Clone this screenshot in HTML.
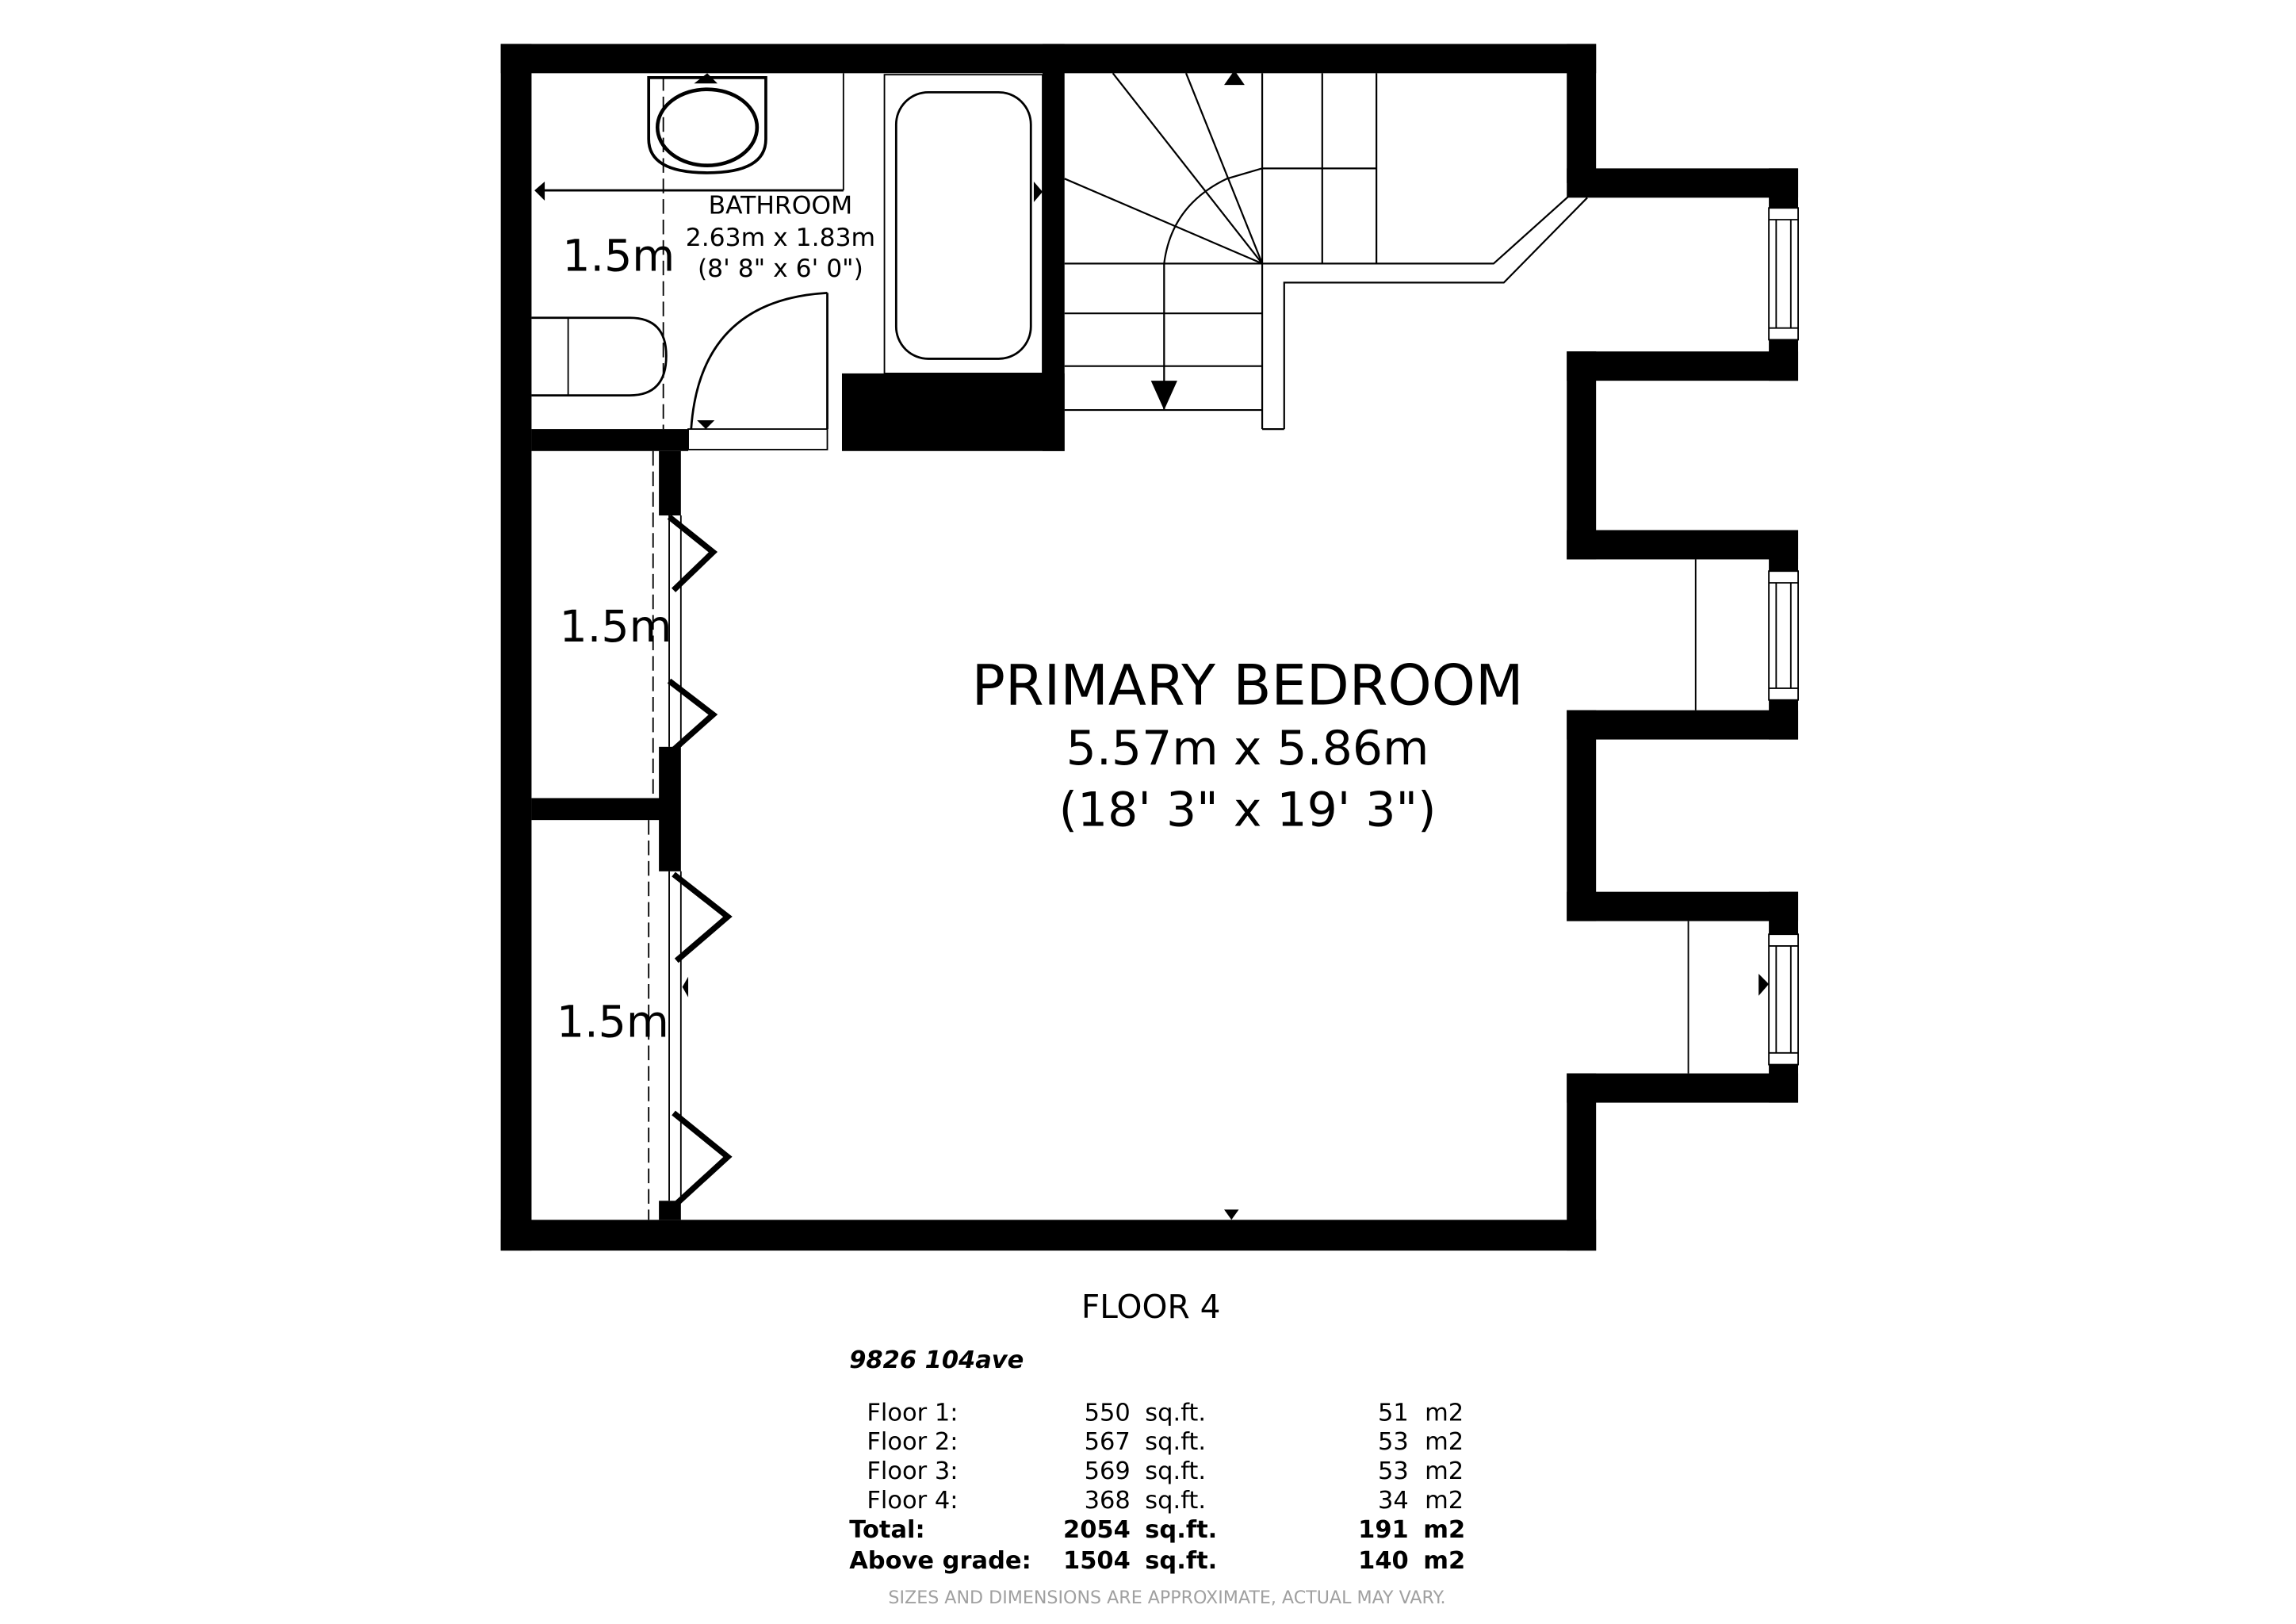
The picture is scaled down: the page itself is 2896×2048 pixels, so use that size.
<!DOCTYPE html>
<html><head><meta charset="utf-8"><style>
html,body{margin:0;padding:0;background:#fff;}
svg{display:block;}
text{font-family:"DejaVu Sans","Liberation Sans",sans-serif;fill:#000;}
</style></head><body>
<svg width="2896" height="2048" viewBox="0 0 1568 1109" preserveAspectRatio="none" xmlns="http://www.w3.org/2000/svg">
<rect width="1568" height="1109" fill="#fff"/>
<g fill="#000">
<rect x="342" y="30" width="748" height="20"/>
<rect x="342" y="30" width="21" height="824"/>
<rect x="342" y="833" width="748" height="21"/>
<rect x="1070" y="30" width="20" height="95"/>
<rect x="1070" y="115" width="158" height="20"/>
<rect x="1070" y="240" width="158" height="20"/>
<rect x="1208" y="115" width="20" height="145"/>
<rect x="1070" y="240" width="20" height="142"/>
<rect x="1070" y="362" width="158" height="20"/>
<rect x="1070" y="485" width="158" height="20"/>
<rect x="1208" y="362" width="20" height="143"/>
<rect x="1070" y="485" width="20" height="144"/>
<rect x="1070" y="609" width="158" height="20"/>
<rect x="1070" y="733" width="158" height="20"/>
<rect x="1208" y="609" width="20" height="144"/>
<rect x="1070" y="733" width="20" height="121"/>
<rect x="712" y="30" width="15" height="278"/>
<rect x="363" y="293" width="107" height="15"/>
<rect x="575" y="255" width="152" height="53"/>
<rect x="363" y="545" width="90" height="15"/>
<rect x="450" y="308" width="15" height="44"/>
<rect x="450" y="510" width="15" height="85"/>
<rect x="450" y="820" width="15" height="13"/>
</g>
<g fill="#fff" stroke="#000" stroke-width="1">
<rect x="1208" y="142" width="20" height="90"/>
<rect x="1208" y="390" width="20" height="88"/>
<rect x="1208" y="638" width="20" height="89"/>
</g>
<g stroke="#000" stroke-width="1">
<line x1="1213" y1="150" x2="1213" y2="224"/><line x1="1223" y1="150" x2="1223" y2="224"/>
<line x1="1208" y1="150" x2="1228" y2="150"/><line x1="1208" y1="224" x2="1228" y2="224"/>
<line x1="1213" y1="398" x2="1213" y2="470"/><line x1="1223" y1="398" x2="1223" y2="470"/>
<line x1="1208" y1="398" x2="1228" y2="398"/><line x1="1208" y1="470" x2="1228" y2="470"/>
<line x1="1213" y1="646" x2="1213" y2="719"/><line x1="1223" y1="646" x2="1223" y2="719"/>
<line x1="1208" y1="646" x2="1228" y2="646"/><line x1="1208" y1="719" x2="1228" y2="719"/>
<line x1="1158" y1="382" x2="1158" y2="485"/>
<line x1="1153" y1="629" x2="1153" y2="733"/>
</g>
<polygon points="1201,665 1208,672 1201,680" fill="#000"/>
<polygon points="836,826 846,826 841,833" fill="#000"/>
<rect x="470" y="293" width="95" height="14" fill="#fff" stroke="#000" stroke-width="1"/>
<line x1="457" y1="352" x2="457" y2="510" stroke="#000" stroke-width="1"/>
<line x1="457" y1="595" x2="457" y2="820" stroke="#000" stroke-width="1"/>
<line x1="465" y1="352" x2="465" y2="510" stroke="#000" stroke-width="1"/>
<line x1="465" y1="595" x2="465" y2="820" stroke="#000" stroke-width="1"/>
<g fill="none" stroke="#000" stroke-width="4">
<polyline points="457,353 487,377 460,403"/>
<polyline points="457,465 487,488 460,512"/>
<polyline points="460,597 497,626 462,656"/>
<polyline points="460,760 497,790 462,822"/>
</g>
<polygon points="470,667 466,674 470,681" fill="#000"/>
<g stroke="#000" stroke-width="1" stroke-dasharray="10,4">
<line x1="453" y1="52" x2="453" y2="293"/>
<line x1="446" y1="308" x2="446" y2="545"/>
<line x1="443" y1="560" x2="443" y2="833"/>
</g>
<g fill="none" stroke="#000">
<line x1="576" y1="50" x2="576" y2="130" stroke-width="1"/>
<line x1="368" y1="130" x2="576" y2="130" stroke-width="1.5"/>
<path d="M443,53 H523 V95 Q523,118 483,118 Q443,118 443,95 Z" stroke-width="2"/>
<ellipse cx="483" cy="87" rx="34" ry="26" stroke-width="2.5"/>
<rect x="604" y="51" width="108" height="204" stroke-width="1"/>
<rect x="612" y="63" width="92" height="182" rx="22" stroke-width="1.5"/>
<path d="M363,217 H430 Q455,217 455,243 Q455,270 430,270 H363" stroke-width="1.5"/>
<line x1="388" y1="217" x2="388" y2="270" stroke-width="1"/>
<line x1="565" y1="200" x2="565" y2="293" stroke-width="1.5"/>
<path d="M565,200 Q478,205 472,293" stroke-width="1.5"/>
</g>
<polygon points="365,130 372,124 372,137" fill="#000"/>
<polygon points="474,57 483,50 490,57" fill="#000"/>
<polygon points="476,287 488,287 482,293" fill="#000"/>
<polygon points="706,124 712,131 706,138" fill="#000"/>
<g fill="none" stroke="#000" stroke-width="1.2">
<polyline points="727,180 1020,180 1078,128"/>
<polyline points="877,293 877,193 1027,193 1084,135"/>
<line x1="862" y1="50" x2="862" y2="293"/>
<line x1="862" y1="293" x2="877" y2="293"/>
<line x1="903" y1="50" x2="903" y2="180"/>
<line x1="940" y1="50" x2="940" y2="180"/>
<line x1="862" y1="115" x2="940" y2="115"/>
<line x1="727" y1="214" x2="862" y2="214"/>
<line x1="727" y1="250" x2="862" y2="250"/>
<line x1="727" y1="280" x2="862" y2="280"/>
<line x1="862" y1="180" x2="727" y2="122"/>
<line x1="862" y1="180" x2="760" y2="50"/>
<line x1="862" y1="180" x2="810" y2="50"/>
<path d="M795,280 V180 Q800,140 838,122 L862,115"/>
</g>
<polygon points="786,260 804,260 795,280" fill="#000"/>
<polygon points="836,58 850,58 843,48" fill="#000"/>
<text x="533" y="146" font-size="17" text-anchor="middle">BATHROOM</text>
<text x="533" y="168" font-size="17" text-anchor="middle">2.63m x 1.83m</text>
<text x="533" y="189" font-size="17" text-anchor="middle">(8' 8" x 6' 0")</text>
<text x="384" y="185" font-size="30">1.5m</text>
<text x="382" y="438" font-size="30">1.5m</text>
<text x="380" y="708" font-size="30">1.5m</text>
<text x="852" y="481" font-size="38" text-anchor="middle">PRIMARY BEDROOM</text>
<text x="852" y="522" font-size="32.5" text-anchor="middle">5.57m x 5.86m</text>
<text x="852" y="564" font-size="32.5" text-anchor="middle">(18' 3" x 19' 3")</text>
<text x="786" y="900" font-size="22" text-anchor="middle">FLOOR 4</text>
<text x="580" y="934" font-size="16.5" font-weight="bold" font-style="italic">9826 104ave</text>
<g font-size="16.5">
<text x="592" y="970">Floor 1:</text><text x="772" y="970" text-anchor="end">550</text><text x="782" y="970">sq.ft.</text><text x="962" y="970" text-anchor="end">51</text><text x="973" y="970">m2</text>
<text x="592" y="990">Floor 2:</text><text x="772" y="990" text-anchor="end">567</text><text x="782" y="990">sq.ft.</text><text x="962" y="990" text-anchor="end">53</text><text x="973" y="990">m2</text>
<text x="592" y="1010">Floor 3:</text><text x="772" y="1010" text-anchor="end">569</text><text x="782" y="1010">sq.ft.</text><text x="962" y="1010" text-anchor="end">53</text><text x="973" y="1010">m2</text>
<text x="592" y="1030">Floor 4:</text><text x="772" y="1030" text-anchor="end">368</text><text x="782" y="1030">sq.ft.</text><text x="962" y="1030" text-anchor="end">34</text><text x="973" y="1030">m2</text>
</g>
<g font-size="16.5" font-weight="bold">
<text x="580" y="1050">Total:</text><text x="772" y="1050" text-anchor="end">2054</text><text x="782" y="1050">sq.ft.</text><text x="962" y="1050" text-anchor="end">191</text><text x="972" y="1050">m2</text>
<text x="580" y="1071">Above grade:</text><text x="772" y="1071" text-anchor="end">1504</text><text x="782" y="1071">sq.ft.</text><text x="962" y="1071" text-anchor="end">140</text><text x="972" y="1071">m2</text>
</g>
<text x="797" y="1095" font-size="12" text-anchor="middle" style="fill:#a0a0a0">SIZES AND DIMENSIONS ARE APPROXIMATE, ACTUAL MAY VARY.</text>
</svg>
</body></html>
